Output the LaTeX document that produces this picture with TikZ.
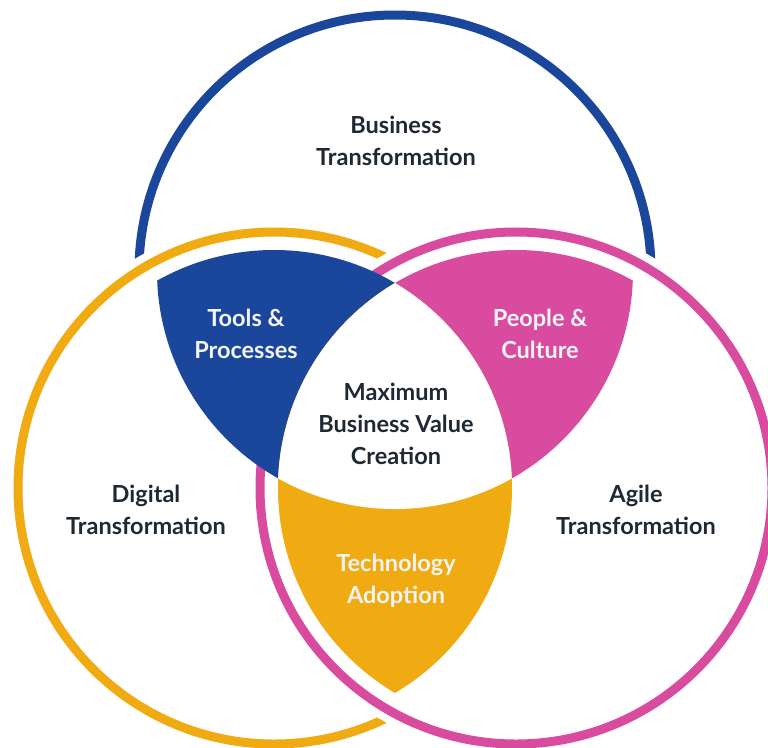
\documentclass[tikz,border=0pt]{standalone}
\usepackage{fontspec}
\setmainfont{Lato}
\definecolor{vblue}{HTML}{1A469C}
\definecolor{vorange}{HTML}{F0AB12}
\definecolor{vpink}{HTML}{D84B9F}
\definecolor{textdark}{HTML}{1F2933}
\definecolor{textlight}{HTML}{F4F4F4}
\tikzset{
  ring/.style={line width=9pt},
  lbl/.style={align=center, inner sep=0pt, font=\bfseries\fontsize{23.5}{32}\selectfont},
  dark/.style={lbl, text=textdark},
  light/.style={lbl, text=textlight},
}
\begin{document}
\begin{tikzpicture}[x=1pt,y=-1pt]
\useasboundingbox (0,0) rectangle (768,747);
\clip (0,0) rectangle (768,747);
\fill[white] (0,0) rectangle (768,747);

% circle centres
\coordinate (cB) at (395,271);
\coordinate (cO) at (274,488);
\coordinate (cP) at (516,488);

% rings, each one hidden where it passes under a later one
\draw[ring, vblue] (cB) circle[radius=256pt];
\fill[white] (cO) circle[radius=268pt] (cP) circle[radius=268pt];
\draw[ring, vorange] (cO) circle[radius=256pt];
\fill[white] (cP) circle[radius=268pt];
\draw[ring, vpink] (cP) circle[radius=256pt];

% pairwise overlaps
\begin{scope}
  \clip (cB) circle[radius=238pt];
  \clip (cO) circle[radius=238pt];
  \fill[vblue] (0,0) rectangle (768,747);
\end{scope}
\begin{scope}
  \clip (cB) circle[radius=238pt];
  \clip (cP) circle[radius=238pt];
  \fill[vpink] (0,0) rectangle (768,747);
\end{scope}
\begin{scope}
  \clip (cO) circle[radius=238pt];
  \clip (cP) circle[radius=238pt];
  \fill[vorange] (0,0) rectangle (768,747);
\end{scope}
% common centre
\begin{scope}
  \clip (cB) circle[radius=238pt];
  \clip (cO) circle[radius=238pt];
  \fill[white] (cP) circle[radius=238pt];
\end{scope}

% labels
\node[dark]  (business) at (396,141) {Business\\Transformation};
\node[dark]  (digital)  at (146,510) {Digital\\Transformation};
\node[dark]  (agile)    at (636,510) {Agile\\Transformation};
\node[light] (tools)    at (246,334) {Tools \&\\Processes};
\node[light] (people)   at (540,334) {People \&\\Culture};
\node[light] (tech)     at (396,581) {Technology\\Adoption};
\node[dark]  (value)    at (396,424) {Maximum\\Business Value\\Creation};
\end{tikzpicture}
\end{document}
